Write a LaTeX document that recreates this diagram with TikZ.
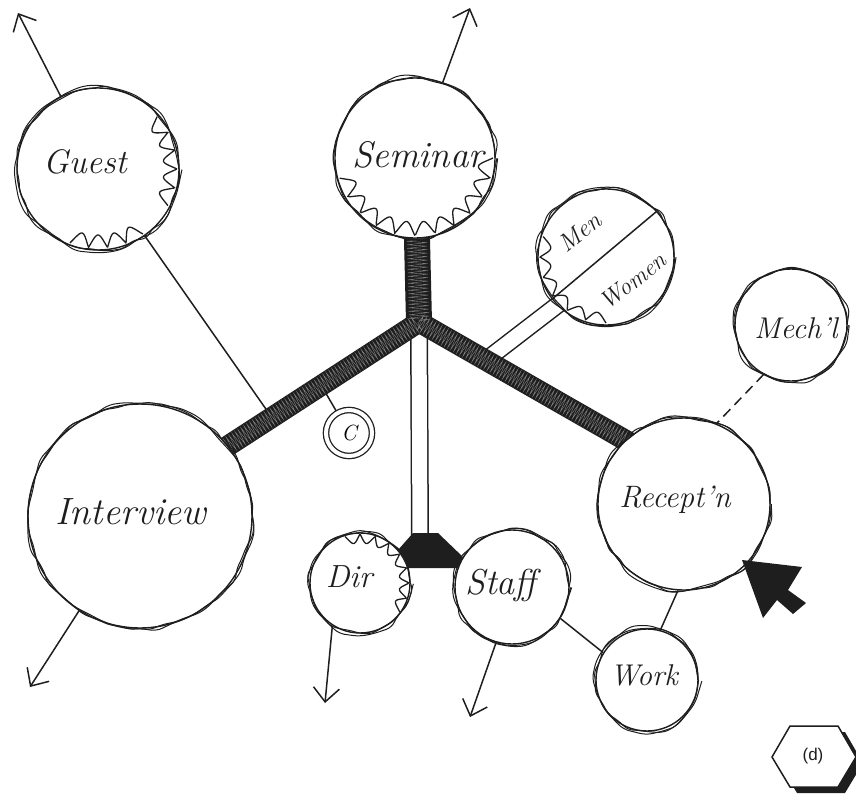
\documentclass[tikz,border=0pt]{standalone}
\usepackage{fontspec}
\newfontfamily\labfont{Liberation Sans}
\usetikzlibrary{arrows.meta,decorations.pathmorphing,backgrounds}
\definecolor{ink}{RGB}{30,30,30}
\newcommand\scallop[7]{\draw[draw=ink, line width=1.3pt] plot[domain=#6:#7, samples=180] ({#1+(#3-#4*abs(sin(#5*\x)))*cos(\x)},{#2+(#3-#4*abs(sin(#5*\x)))*sin(\x)});}
\tikzset{
 room/.style={circle, draw=ink, line width=1.4pt, fill=white, inner sep=0pt, minimum size=#1,
   postaction={draw=ink, line width=1pt, decorate, decoration={random steps, segment length=12pt, amplitude=2.6pt}, rounded corners=5pt},
   postaction={draw=ink, line width=1pt, decorate, decoration={random steps, segment length=15pt, amplitude=3pt}, rounded corners=6pt}},
 hand/.style={font=\fontsize{#1}{#1}\selectfont\itshape, text=ink, inner sep=0pt},
 thin/.style={draw=ink, line width=1.5pt},
 outarrow/.style={thin, -{Straight Barb[length=14pt, width=26pt, line width=1.5pt]}},
 corridor/.style={draw=ink, line width=1.5pt, double=white, double distance=15pt},
 bar/.style={draw=ink, line width=#1},
 hatch/.style={draw=black!50, line width=0.4pt, decorate, decoration={zigzag, segment length=3.5pt, amplitude=#1}},
 cnode/.style={circle, draw=ink, line width=1.3pt, double=white, double distance=4pt, fill=white, minimum size=46pt, inner sep=0pt, font=\fontsize{22pt}{24pt}\selectfont\itshape},
}
\begin{document}
\pgfmathsetseed{7}
\begin{tikzpicture}[x=1pt,y=-1pt]
\useasboundingbox (0,0) rectangle (856,795);
% rooms
\node[room=162pt] (guest) at (98,169) {};
\node[room=160pt] (sem) at (415,158) {};
\node[room=136pt] (mw) at (606,257) {};
\node[room=112pt] (mech) at (791,325) {};
\node[room=224pt] (int) at (140,516) {};
\node[room=172pt] (rec) at (684,504) {};
\node[room=100pt] (dir) at (360,583) {};
\node[room=114pt] (staff) at (512,587) {};
\node[room=102pt] (work) at (647,680) {};
\node[cnode] (c) at (349,433) {C};
% junction coordinates
\coordinate (hub) at (419,322);
\coordinate (ib) at (180,477);
\coordinate (rb) at (660,460);
\coordinate (gc) at (268,412);
\coordinate (cbar) at (324,390);
\coordinate (mwj) at (486,360);
\coordinate (mwe) at (577,290);
\coordinate (junc) at (420,540);
\begin{pgfonlayer}{background}
\draw[corridor] (hub) -- (junc);
\draw[corridor] (mwj) -- (mwe);
\draw[thin] (guest) -- (gc);
\draw[thin] (c) -- (cbar);
\draw[bar=26pt] (sem.center) -- (hub);
\draw[bar=21pt, line join=round] (ib) -- (hub) -- (rb);
\draw[hatch=10pt] (sem.center) -- (hub);
\draw[hatch=8pt] (ib) -- (hub);
\draw[hatch=8pt] (hub) -- (rb);
\fill[ink] (413,533) -- (438,533) -- (463,557) -- (458,568) -- (407,568) -- (398,550) -- cycle;
\end{pgfonlayer}
% scallops
\scallop{98}{169}{79}{13}{13}{-41.54}{27.69}
\scallop{98}{169}{79}{13}{13}{55.38}{110.77}
\scallop{415}{158}{78}{14}{12}{0}{165}
\scallop{606}{257}{66}{10}{10}{90}{198}
\scallop{360}{583}{49}{9}{10}{-108}{36}
% labels
\node[hand=34pt] (tguest) at (85,162) {Guest};
\node[hand=37pt] (tsem) at (418,155) {Seminar};
\node[hand=38pt] (tint) at (131,512) {Interview};
\node[hand=31pt] (trec) at (675,500) {Recept'n};
\node[hand=32pt] (tdir) at (349,577) {Dir};
\node[hand=36pt] (tstaff) at (501,585) {Staff};
\node[hand=30pt] (twork) at (644,675) {Work};
\node[hand=30pt] (tmech) at (796,328) {Mech'l};
\node[hand=25pt, rotate=38] (tmen) at (580,232) {Men};
\node[hand=24pt, rotate=38] (twomen) at (633,281) {Women};
% connectors
\draw[thin] (mw.218) -- (mw.42);
\draw[thin, dash pattern=on 10pt off 6pt] (mech.241) -- (rec.68);
\draw[thin] (rec.266) -- (work.75);
\draw[thin] (staff.327) -- (work.148);
% outward arrows
\coordinate (gout) at (18,13);
\coordinate (sout) at (470,8);
\coordinate (iout) at (30,687);
\coordinate (dout) at (325,703);
\coordinate (stout) at (470,717);
\draw[outarrow] (guest) -- (gout);
\draw[outarrow] (sem) -- (sout);
\draw[outarrow] (int) -- (iout);
\draw[outarrow] (dir.237) -- (dout);
\draw[outarrow] (staff.254) -- (stout);
% entrance arrow
\fill[ink] (742,560) -- (802,567) -- (788,590) -- (806,603) -- (793,614) -- (777,600) -- (763,618) -- cycle;
% (d) tag
\fill[ink] (779,763) -- (797,732) -- (845,732) -- (863,763) -- (845,793) -- (797,793) -- cycle;
\draw[thin, fill=white] (772,757) -- (790,726) -- (838,726) -- (856,757) -- (838,787) -- (790,787) -- cycle;
\node[font=\labfont\fontsize{17pt}{20pt}\selectfont, text=ink] (dlab) at (813,756) {(d)};
\end{tikzpicture}
\end{document}
